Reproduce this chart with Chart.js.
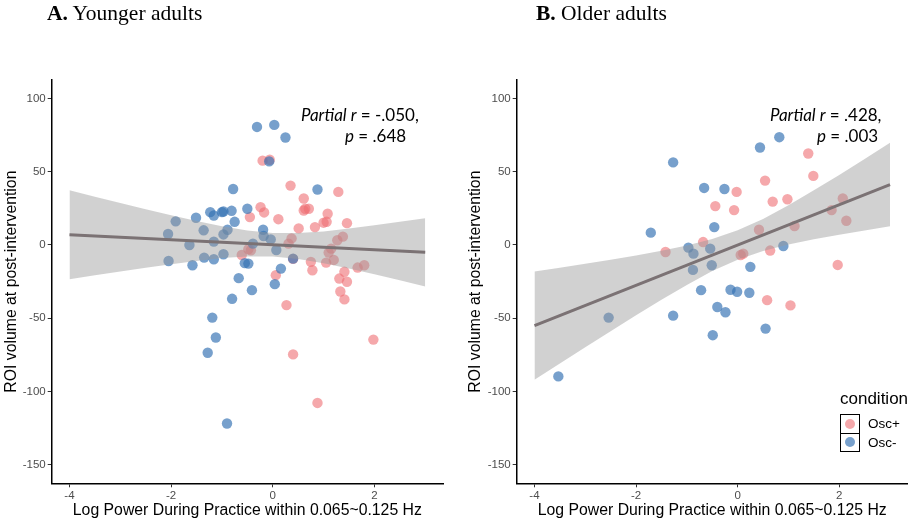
<!DOCTYPE html>
<html>
<head>
<meta charset="utf-8">
<script src="https://cdn.jsdelivr.net/npm/chart.js@4.4.0/dist/chart.umd.min.js"></script>
<style>
  body { margin: 0; background: #fff; }
  #wrap { position: relative; width: 913px; height: 524px; overflow: hidden; background: #fff; }
  canvas { position: absolute; top: 0; }
  .ttl { position: absolute; top: 0; font-family: "Liberation Serif", serif; font-size: 21.5px; line-height: 26px; color: #000; white-space: nowrap; }
  .stat { position: absolute; font-family: Lato, "Open Sans", sans-serif; font-size: 17px; line-height: 20px; color: #000; white-space: nowrap; }
  .legtitle { position: absolute; left: 840px; top: 389px; font-family: "Liberation Sans", Arial, sans-serif; font-size: 17px; line-height: 20px; }
  .keys { position: absolute; left: 840px; top: 414px; width: 17.5px; height: 36px; border: 1.3px solid #000; }
  .keys .sep { position: absolute; left: 0; top: 17.5px; width: 17.5px; height: 1.3px; background: #000; }
  .dot { position: absolute; width: 10.4px; height: 10.4px; border-radius: 50%; left: 3.5px; }
  .leglab { position: absolute; left: 868px; font-family: "Liberation Sans", Arial, sans-serif; font-size: 13.5px; line-height: 16px; }
</style>
</head>
<body>
<div id="wrap">
  <canvas id="young" width="456" height="524" style="left:0"></canvas>
  <canvas id="older" width="449" height="524" style="left:464px"></canvas>

  <div class="ttl" style="left:47px"><b>A.</b> Younger adults</div>
  <div class="ttl" style="left:536px"><b>B.</b> Older adults</div>

  <div class="stat" style="left:301px; top:105px"><i>Partial r</i> = -.050,</div>
  <div class="stat" style="left:345px; top:126px"><i>p</i> = .648</div>
  <div class="stat" style="left:770px; top:105px"><i>Partial r</i> = .428,</div>
  <div class="stat" style="left:817px; top:126px"><i>p</i> = .003</div>

  <div class="legtitle">condition</div>
  <div class="keys">
    <div class="dot" style="top:3.5px; background:rgba(238,110,115,0.6)"></div>
    <div class="sep"></div>
    <div class="dot" style="top:22px; background:rgba(55,115,180,0.68)"></div>
  </div>
  <div class="leglab" style="top:416px">Osc+</div>
  <div class="leglab" style="top:435px">Osc-</div>
</div>

<script>
// axis ticks
const xTicks = [-4, -2, 0, 2];
const yTicks = [-150, -100, -50, 0, 50, 100];

// A. younger adults
const youngPlusX = [-0.20, -0.06, 0.35, 1.29, 0.61, 0.61, 0.64, 0.71, -0.24, -0.17, -0.45, 0.11, 1.08, 1.00, 1.06, 1.46, 0.83, 0.51, 0.37, 0.31, 1.38, 1.27, 1.15, 1.10, -0.48, -0.43, -0.61, 0.40, 0.75, 1.05, 1.20, 0.78, 0.06, 1.41, 1.67, 1.80, 1.31, 1.46, 1.33, 1.41, 0.27, 1.98, 0.40, 0.88];
const youngPlusY = [57.5, 58.1, 40.5, 36.2, 31.7, 23.5, 24.7, 24.7, 25.8, 22.2, 19.0, 17.6, 21.3, 15.2, 15.8, 14.9, 12.2, 11.3, 4.5, 0.9, 5.7, 3.2, -2.5, -5.2, -2.9, -3.6, -6.8, -9.5, -11.5, -12.0, -10.2, -17.2, -20.6, -18.3, -15.4, -13.8, -22.9, -25.1, -31.7, -37.1, -41.0, -64.5, -74.6, -107.7];
const youngMinusX = [-0.31, 0.03, 0.25, -0.07, -0.78, 0.88, -1.23, -1.16, -1.00, -0.97, -0.81, -0.50, -1.51, -0.75, -1.91, -2.06, -1.36, -0.89, -0.97, -0.19, -1.16, -1.64, -0.18, -0.04, -0.39, -0.97, 0.07, -1.35, -1.16, -2.05, 0.40, -1.58, -0.55, -0.48, 0.16, -0.67, 0.04, -0.41, -0.80, -1.19, -1.12, -1.28, -0.90];
const youngMinusY = [80.5, 81.9, 73.3, 57.0, 38.2, 37.8, 22.4, 20.1, 22.4, 22.8, 23.3, 24.7, 18.6, 15.8, 16.1, 7.5, 10.0, 10.4, 7.2, 10.4, 2.3, 0.0, 6.1, 3.8, 0.9, -6.3, -3.4, -8.6, -9.7, -10.9, -9.3, -13.8, -12.4, -12.7, -16.1, -22.6, -26.7, -30.8, -36.7, -49.5, -63.1, -73.5, -121.7];

// B. older adults
const olderPlusX = [1.39, 1.49, 0.54, -0.02, 0.98, 0.69, 2.07, -0.44, -0.07, 1.85, 2.14, 1.12, 0.42, -0.68, -1.42, 0.06, 0.11, 0.64, 1.97, 0.58, 1.04];
const olderPlusY = [62.4, 47.1, 43.9, 36.2, 31.2, 29.6, 31.7, 26.5, 23.8, 23.8, 16.5, 12.9, 10.4, 2.0, -4.8, -6.8, -5.9, -3.8, -13.6, -37.6, -41.2];
const olderMinusX = [0.82, 0.44, -1.27, -0.66, -0.26, -0.46, -1.71, -0.97, -0.87, -0.54, 0.90, -0.88, -0.51, 0.25, -0.72, -0.14, -0.01, 0.23, -0.40, -0.24, -1.27, -2.54, -0.49, 0.55, -3.53];
const olderMinusY = [73.5, 66.5, 56.3, 38.9, 38.2, 12.2, 8.4, -1.8, -5.9, -2.5, -0.7, -17.0, -13.8, -14.9, -30.8, -30.5, -31.9, -32.6, -42.3, -45.9, -48.2, -49.5, -61.5, -57.0, -89.6];

// fitted lines and confidence bands
const fitX = [-4, 3];
const youngFit = [7.0, -5.0];
const olderFit = [-55.0, 41.2];
const bandX = [-4, -3.5, -3, -2.5, -2, -1.5, -1, -0.5, 0, 0.5, 1, 1.5, 2, 2.5, 3];
const youngUpper = [37.4, 32.9, 28.6, 24.3, 20.3, 16.3, 12.7, 9.8, 8.1, 8.1, 9.2, 11.2, 13.4, 15.8, 18.3];
const youngLower = [-23.4, -20.7, -18.0, -15.5, -13.1, -10.9, -8.9, -7.8, -7.9, -9.5, -12.4, -16.0, -20.0, -24.0, -28.3];
const olderUpper = [-18.1, -15.5, -12.8, -10.0, -7.1, -4.0, -0.4, 4.0, 10.0, 17.7, 27.1, 37.3, 47.8, 58.7, 69.7];
const olderLower = [-91.9, -80.8, -69.8, -58.8, -47.9, -37.3, -27.2, -17.8, -10.0, -4.1, 0.3, 3.9, 7.0, 9.9, 12.7];

const pink = "rgba(238,110,115,0.6)";
const blue = "rgba(55,115,180,0.68)";
const bandFill = "rgba(153,153,153,0.45)";
const fitColor = "#7b7274";

function pts(xs, ys) {
  return xs.map((x, i) => ({ x: x, y: ys[i] }));
}

function makePanel(id, plusX, plusY, minusX, minusY, upper, lower, fit, yWidth, padRight) {
  const tickFont = { family: "Liberation Sans", size: 11.5 };
  const titleFont = { family: "Liberation Sans", size: 15.8 };
  new Chart(document.getElementById(id), {
    type: "scatter",
    data: {
      datasets: [
        { data: pts(plusX, plusY), backgroundColor: pink, pointRadius: 5.2, borderWidth: 0, pointHoverRadius: 5.2, order: 4 },
        { data: pts(minusX, minusY), backgroundColor: blue, pointRadius: 5.2, borderWidth: 0, pointHoverRadius: 5.2, order: 3 },
        { type: "line", data: pts(bandX, upper), borderWidth: 0, pointRadius: 0, fill: false, order: 2 },
        { type: "line", data: pts(bandX, lower), borderWidth: 0, pointRadius: 0, fill: "-1", backgroundColor: bandFill, order: 2 },
        { type: "line", data: pts(fitX, fit), borderColor: fitColor, borderWidth: 3, pointRadius: 0, fill: false, order: 1 }
      ]
    },
    options: {
      responsive: false,
      animation: false,
      devicePixelRatio: 1,
      layout: { padding: { top: 80, right: padRight, left: 0, bottom: 0 } },
      plugins: { legend: { display: false }, tooltip: { enabled: false } },
      scales: {
        x: {
          type: "linear",
          min: -4.35,
          max: 3.35,
          afterBuildTicks: s => { s.ticks = xTicks.map(v => ({ value: v })); },
          afterFit: s => { s.height = 40.7; },
          border: { display: true, color: "#000", width: 1.5 },
          grid: { drawOnChartArea: false, drawTicks: true, tickLength: 4, color: "#333", lineWidth: 1 },
          ticks: { color: "#4d4d4d", font: tickFont, padding: 2, maxRotation: 0, callback: v => String(v) },
          title: { display: true, text: "Log Power During Practice within 0.065~0.125 Hz", color: "#000", font: titleFont, padding: { top: 0, bottom: 3.5 } }
        },
        y: {
          min: -162.5,
          max: 112.5,
          afterBuildTicks: s => { s.ticks = yTicks.map(v => ({ value: v })); },
          afterFit: s => { s.width = yWidth; },
          border: { display: true, color: "#000", width: 1.5 },
          grid: { drawOnChartArea: false, drawTicks: true, tickLength: 4, color: "#333", lineWidth: 1 },
          ticks: { color: "#4d4d4d", font: tickFont, padding: 2, callback: v => String(v) },
          title: { display: true, text: "ROI volume at post-intervention", color: "#000", font: titleFont, padding: { top: 2, bottom: 0 } }
        }
      }
    }
  });
}

makePanel("young", youngPlusX, youngPlusY, youngMinusX, youngMinusY, youngUpper, youngLower, youngFit, 51.7, 13);
makePanel("older", olderPlusX, olderPlusY, olderMinusX, olderMinusY, olderUpper, olderLower, olderFit, 52.7, 4.7);
</script>
</body>
</html>
